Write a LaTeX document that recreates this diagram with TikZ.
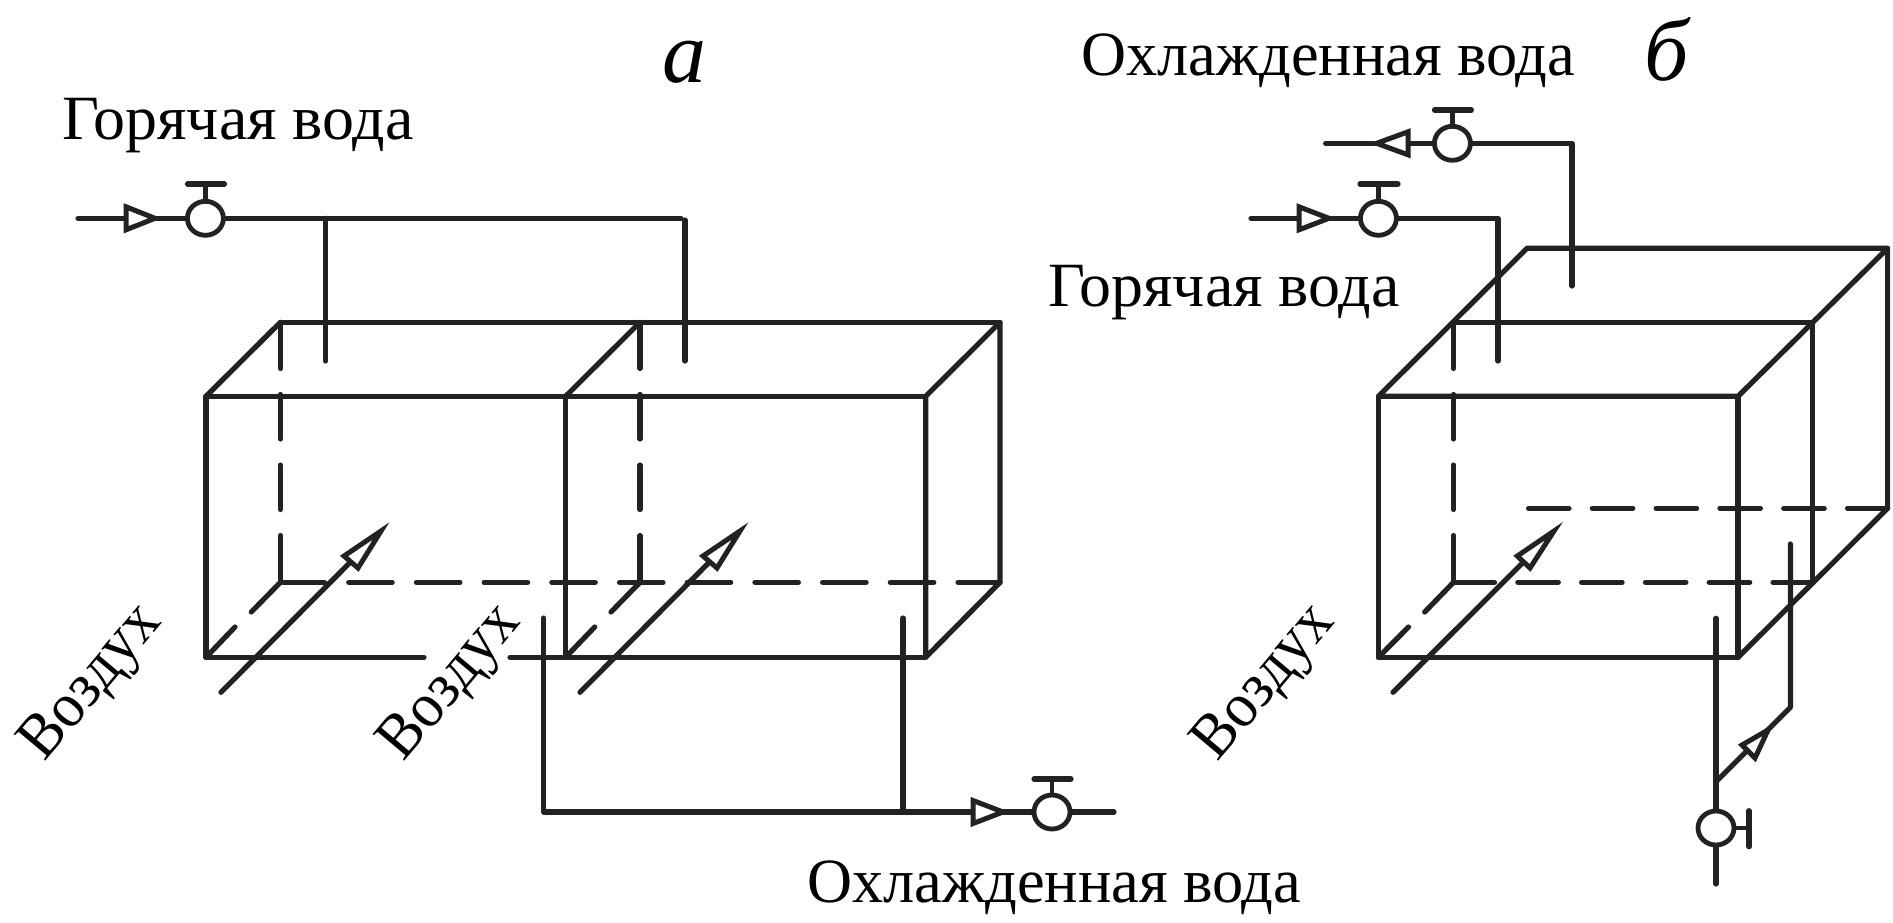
\documentclass[tikz,border=0pt]{standalone}
\usepackage{fontspec}
\setmainfont{Liberation Serif}
\definecolor{ink}{HTML}{222222}
\usetikzlibrary{shapes.geometric}
\tikzset{
  pipe/.style={line width=5.2pt,draw=ink,line cap=round,line join=round},
  thin pipe/.style={line width=4.6pt,draw=ink,line cap=round,line join=round},
  dashv/.style={pipe,dash pattern=on 44.5pt off 26pt},
  dashh/.style={pipe,dash pattern=on 43.5pt off 24.2pt},
  dashb/.style={pipe,dash pattern=on 40.5pt off 23.3pt},
  head/.style={line width=5pt,draw=ink,fill=white,line join=miter},
  vlv/.style={line width=4.8pt,draw=ink,fill=white,ellipse,minimum width=36pt,minimum height=34pt,inner sep=0pt},
  lbl/.style={inner sep=0pt,text=black,font=\fontsize{63}{70}\selectfont},
  hotlbl/.style={lbl,xscale=1.015},
  coldlbl/.style={lbl,xscale=0.99},
  letter/.style={inner sep=0pt,text=black,font=\fontsize{88}{100}\selectfont\itshape},
  air/.style={lbl,rotate=50,xscale=0.95}
}
\begin{document}
\begin{tikzpicture}[x=1pt,y=-1pt]
\useasboundingbox (0,0) rectangle (1893,922);

% labels
\node[letter,anchor=base west] (la) at (662,82) {а};
\node[letter,anchor=base west] (lb) at (1644,80) {б};
\node[hotlbl,anchor=base west] (hot1) at (62,139) {Горячая вода};
\node[coldlbl,anchor=base west] (cold2) at (1081,75) {Охлажденная вода};
\node[hotlbl,anchor=base west] (hot2) at (1048,306) {Горячая вода};
\node[coldlbl,anchor=base west] (cold1) at (807,902) {Охлажденная вода};
\node[air] (air1) at (93,684) {Воздух};
\node[air] (air2) at (452,684) {Воздух};
\node[air] (air3) at (1266,684) {Воздух};

% --- part a: boxes
\draw[pipe] (280.4,322.3) -- (1000,322.3);
\draw[pipe] (206,396.3) -- (925.7,396.3);
\draw[pipe] (206,396.3) -- (206,657.3) -- (424,657.3);
\draw[pipe] (510,657.3) -- (925.7,657.3);
\draw[pipe] (565.6,396.3) -- (565.6,657.3);
\draw[pipe] (925.7,396.3) -- (925.7,657.3) -- (1000,582.3) -- (1000,322.3) -- cycle;
\draw[pipe] (206,396.3) -- (280.4,322.3);
\draw[pipe] (565.6,396.3) -- (640,322.3);
% hidden edges
\draw[dashv] (280.4,324) -- (280.4,582.3);
\draw[dashv] (640,324) -- (640,582.3);
\draw[dashh] (281,582.3) -- (1000,582.3);
\draw[pipe] (206,657.3) -- (235,627);
\draw[pipe] (251.3,612) -- (280.4,582.3);
\draw[pipe] (565.6,657.3) -- (594.7,627);
\draw[pipe] (611,612) -- (640,582.3);

% air arrows a
\draw[pipe] (221,692.3) -- (351,561.5);
\draw[head] (381,531) -- (344,556) -- (358,568) -- cycle;
\draw[pipe] (580,692.3) -- (710,561.5);
\draw[head] (740,531) -- (703,556) -- (717,568) -- cycle;

% hot water a
\coordinate (h1s) at (78,218.3);
\coordinate (h1e) at (681,218.3);
\draw[pipe] (h1s) -- (h1e);
\draw[head] (155,218.3) -- (126,206.8) -- (126,229.8) -- cycle;
\draw[thin pipe] (205.4,184) -- (205.4,200);
\draw[pipe] (187.5,184) -- (224.5,184);
\node[vlv] (v1) at (205.4,218.3) {};
\draw[pipe] (325.5,218.3) -- (325.5,361);
\draw[pipe] (685,220) -- (685,361);

% cold water a
\coordinate (c1l) at (543.7,618);
\coordinate (c1c) at (543.7,812);
\coordinate (c1e) at (1114,812);
\draw[pipe] (c1l) -- (c1c) -- (c1e);
\draw[pipe] (903,618) -- (903,812);
\draw[head] (1003,812) -- (973,800.5) -- (973,823.5) -- cycle;
\draw[thin pipe] (1052,779) -- (1052,795);
\draw[pipe] (1034,779) -- (1071,779);
\node[vlv] (v2) at (1052,812) {};

% --- part b: box
\draw[pipe] (1527,248.3) -- (1887.6,248.3) -- (1738,396.3) -- (1378.4,396.3) -- cycle;
\draw[pipe] (1453.5,322.3) -- (1812.6,322.3) -- (1812.6,582.3);
\draw[pipe] (1378.4,396.3) -- (1378.4,657.3) -- (1738,657.3) -- (1738,396.3);
\draw[pipe] (1738,657.3) -- (1887.6,508.3) -- (1887.6,248.3);
\draw[dashv] (1453.5,324) -- (1453.5,582.3);
\draw[dashb] (1454,582.3) -- (1813,582.3);
\draw[dashb] (1528.5,508.3) -- (1887.6,508.3);
\draw[pipe] (1378.4,657.3) -- (1408.5,627);
\draw[pipe] (1424.7,612) -- (1453.5,582.3);

% air arrow b
\draw[pipe] (1393,692.3) -- (1524,561.5);
\draw[head] (1554,531) -- (1517.3,556) -- (1530,568) -- cycle;

% cooled water b (top)
\draw[pipe] (1325.6,143.3) -- (1572,143.3) -- (1572,286);
\draw[head] (1376.6,143.3) -- (1408,131.8) -- (1408,154.8) -- cycle;
\draw[thin pipe] (1452.4,110) -- (1452.4,126);
\draw[pipe] (1434.5,110) -- (1471.4,110);
\node[vlv] (v3) at (1452.4,143.3) {};

% hot water b
\draw[pipe] (1251,218.3) -- (1498,218.3) -- (1498,361);
\draw[head] (1329,218.3) -- (1299,206.8) -- (1299,229.8) -- cycle;
\draw[thin pipe] (1378.4,184) -- (1378.4,200);
\draw[pipe] (1360,184) -- (1398,184);
\node[vlv] (v4) at (1378.4,218.3) {};

% bottom pipe b
\draw[pipe] (1716,618.3) -- (1716,884);
\draw[pipe] (1716,781.7) -- (1790.4,707.3) -- (1790.4,544);
\draw[head] (1768,730) -- (1742,745) -- (1755,758) -- cycle;
\draw[thin pipe] (1733,828) -- (1749,828);
\draw[pipe] (1749,810.7) -- (1749,846.7);
\node[vlv] (v5) at (1716,828) {};
\end{tikzpicture}
\end{document}
